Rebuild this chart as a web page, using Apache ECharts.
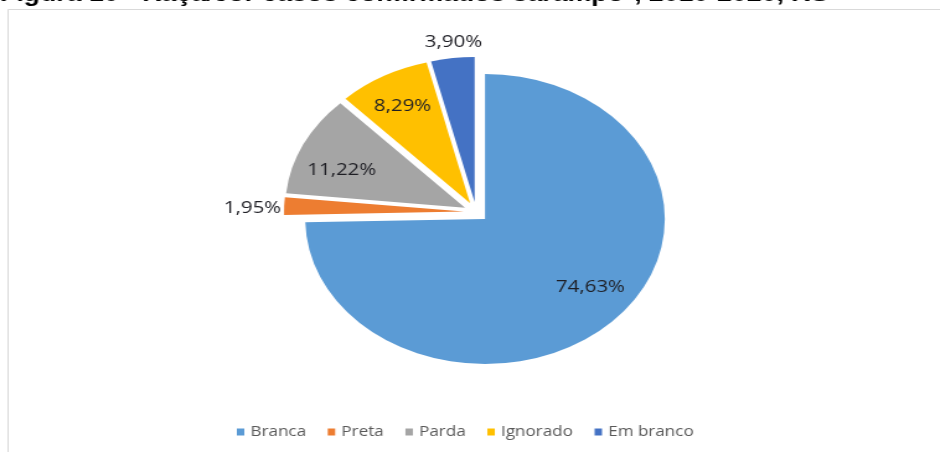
<!DOCTYPE html>
<html>
<head>
<meta charset="utf-8">
<style>
  html, body { margin: 0; padding: 0; background: #fff; overflow: hidden; }
  /* the source picture is stretched sideways, so the chart is drawn narrow and scaled */
  #chart { width: 758px; height: 452px; transform: scaleX(1.24); transform-origin: 0 0; }
</style>
<script src="https://cdn.jsdelivr.net/npm/echarts@6/dist/echarts.min.js"></script>
</head>
<body>
<div id="chart"></div>
<script>
const categories = ['Branca', 'Preta', 'Parda', 'Ignorado', 'Em branco']
const shares = [74.63, 1.95, 11.22, 8.29, 3.90]
const colors = ['#5B9BD5', '#ED7D31', '#A5A5A5', '#FFC000', '#4472C4']
const insideLabels = ['Branca', 'Parda', 'Ignorado']
const titleText = 'Figura 10 - Raça/cor casos confirmados sarampo*, 2010-2020, RS'

// small nudges so the labels sit where excel put them
const labelNudge = {
  Branca: [6, -9],
  Preta: [-6, 3],
  Parda: [0, 11],
  Ignorado: [-1, 0],
  'Em branco': [3, 3]
}

const center = [384, 212]
const fmt = v => v.toFixed(2).replace('.', ',') + '%'

const labelStyle = {
  color: '#1e1e24',
  fontFamily: 'Open Sans',
  fontSize: 16.5
}

const baseSeries = {
  type: 'pie',
  center: center,
  startAngle: 90,
  clockwise: true,
  selectedMode: 'multiple',
  selectedOffset: 10,
  avoidLabelOverlap: false,
  animation: false,
  emphasis: { disabled: true },
  labelLine: { show: false }
}

// actual slices
const mainSeries = Object.assign({}, baseSeries, {
  name: 'main',
  radius: [0, 145],
  label: { show: false },
  data: categories.map((c, i) => ({
    name: c,
    value: shares[i],
    selected: true,
    itemStyle: { color: colors[i] }
  }))
})

// transparent rings only used to place the labels
const ringLabels = (name, radius, showIt) => Object.assign({}, baseSeries, {
  name: name,
  radius: radius,
  silent: true,
  labelLayout: params => {
    const n = labelNudge[categories[params.dataIndex]]
    return { dx: n[0], dy: n[1] }
  },
  data: categories.map((c, i) => ({
    name: c,
    value: shares[i],
    selected: true,
    itemStyle: { color: 'rgba(0,0,0,0)' },
    label: Object.assign({
      show: showIt(c),
      position: 'inside',
      formatter: () => fmt(shares[i])
    }, labelStyle)
  }))
})

const option = {
  backgroundColor: '#fff',
  color: colors,
  legend: {
    data: categories,
    left: 186,
    top: 418,
    icon: 'rect',
    itemWidth: 6,
    itemHeight: 7,
    itemGap: 17.5,
    selectedMode: false,
    textStyle: {
      color: '#595959',
      fontFamily: 'Open Sans',
      fontSize: 13.75,
      lineHeight: 18
    }
  },
  graphic: [
    {
      type: 'rect',
      silent: true,
      z: -1,
      shape: { x: 6.5, y: 9.5, width: 2000, height: 1000 },
      style: { fill: 'none', stroke: '#D9D9D9', lineWidth: 1 }
    },
    {
      type: 'text',
      silent: true,
      x: 0,
      y: -5,
      style: {
        text: titleText,
        font: 'bold 21.5px "Liberation Sans"',
        fill: '#000',
        verticalAlign: 'middle'
      }
    }
  ],
  series: [
    mainSeries,
    ringLabels('inner', [70, 145], c => insideLabels.includes(c)),
    ringLabels('outer', [145, 178], c => !insideLabels.includes(c))
  ]
}

const chart = echarts.init(document.getElementById('chart'))
chart.setOption(option)
</script>
</body>
</html>
